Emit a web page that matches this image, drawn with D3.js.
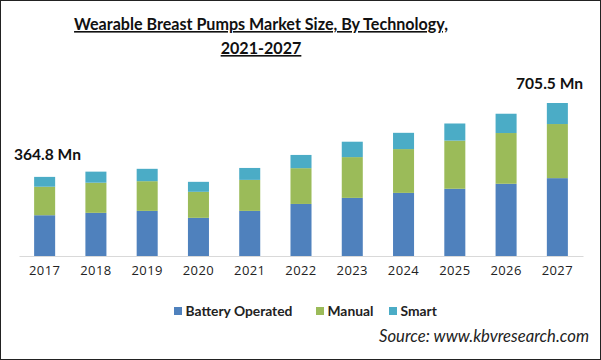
<!DOCTYPE html>
<html><head><meta charset="utf-8">
<script src="https://cdn.jsdelivr.net/npm/d3@7"></script>
<style>body{margin:0;background:#fff}svg{display:block}</style>
</head><body>
<svg id="c" width="601" height="360"></svg>
<script>
const years = ["2017","2018","2019","2020","2021","2022","2023","2024","2025","2026","2027"];
const battery = [188, 199, 208, 176, 208, 240, 268, 291, 310, 333, 359];
const manual  = [131.5, 139, 137, 120, 143, 165, 188, 202, 222, 234, 249.5];
const smart   = [45.3, 51, 57, 46, 55, 61, 71, 75, 79, 89, 97];
const seriesNames = ["Battery Operated", "Manual", "Smart"];
const colors = ["#4F81BD", "#9BBB59", "#4BACC6"];
const annotations = [{year:"2017", text:"364.8 Mn"}, {year:"2027", text:"705.5 Mn"}];

const svg = d3.select("#c");
const W = 601, H = 360;
svg.append("rect").attr("x",0.5).attr("y",0.5).attr("width",W-1).attr("height",H-1)
  .attr("fill","#fff").attr("stroke","#222").attr("stroke-width",1);

function fit(sel, w){
  const n = sel.node();
  const fs = parseFloat(sel.attr("font-size"));
  const cur = n.getComputedTextLength();
  sel.attr("font-size", (fs*w/cur).toFixed(2));
}

// title
const t1 = svg.append("text").attr("x",261).attr("y",30).attr("text-anchor","middle")
  .attr("font-family","Lato").attr("font-weight","bold").attr("font-size",17)
  .attr("text-decoration","underline").attr("fill","#111")
  .text("Wearable Breast Pumps Market Size, By Technology,");
fit(t1, 374);
const t2 = svg.append("text").attr("x",261).attr("y",54).attr("text-anchor","middle")
  .attr("font-family","Lato").attr("font-weight","bold").attr("font-size",+t1.attr("font-size"))
  .attr("text-decoration","underline").attr("fill","#111")
  .text("2021-2027");

const data = years.map((y,i)=>({year:y, "Battery Operated":battery[i], "Manual":manual[i], "Smart":smart[i]}));
const stack = d3.stack().keys(seriesNames)(data);

const x = d3.scaleBand().domain(years).range([19,583]).paddingInner(0.59).paddingOuter(0.295);
const y = d3.scaleLinear().domain([0,705.5]).range([256,103]);

const g = svg.append("g");
g.selectAll("g.s").data(stack).join("g").attr("class","s").attr("fill",(d,i)=>colors[i])
  .selectAll("rect").data(d=>d).join("rect")
  .attr("x",d=>x(d.data.year)).attr("width",x.bandwidth())
  .attr("y",d=>y(d[1])).attr("height",d=>y(d[0])-y(d[1]));

// axis
const ax = svg.append("g").attr("transform","translate(0,256)")
  .call(d3.axisBottom(x).tickSize(0).tickPadding(10));
ax.select(".domain").attr("stroke","#d9d9d9").attr("stroke-width",1.2);
ax.selectAll("text").attr("font-family","Open Sans").attr("font-size",13).attr("fill","#222")
  .attr("letter-spacing","0.4px");

// annotations
const totals = years.map((_,i)=>battery[i]+manual[i]+smart[i]);
const a1 = svg.append("text").attr("x",14).attr("y",160)
  .attr("font-family","Lato").attr("font-weight","bold").attr("font-size",15).attr("fill","#111")
  .text(annotations[0].text);
fit(a1, 67);
const a2 = svg.append("text").attr("x",583).attr("y",89).attr("text-anchor","end")
  .attr("font-family","Lato").attr("font-weight","bold").attr("font-size",+a1.attr("font-size")).attr("fill","#111")
  .text(annotations[1].text);

// legend
const legX = [174, 316, 389];
const lg = svg.append("g");
seriesNames.forEach((n,i)=>{
  lg.append("rect").attr("x",legX[i]).attr("y",307).attr("width",8).attr("height",8).attr("fill",colors[i]);
  const tt = lg.append("text").attr("x",legX[i]+11.5).attr("y",315.5)
    .attr("font-family","Lato").attr("font-weight","bold").attr("font-size",13).attr("fill","#222").text(n);
  if(i===0) fit(tt, 107);
  else tt.attr("font-size", lg.select("text").attr("font-size"));
});

const src = svg.append("text").attr("x",589).attr("y",342).attr("text-anchor","end")
  .attr("font-family","Lato").attr("font-style","italic").attr("font-size",15).attr("fill","#222")
  .text("Source: www.kbvresearch.com");
fit(src, 210);
</script>
</body></html>
